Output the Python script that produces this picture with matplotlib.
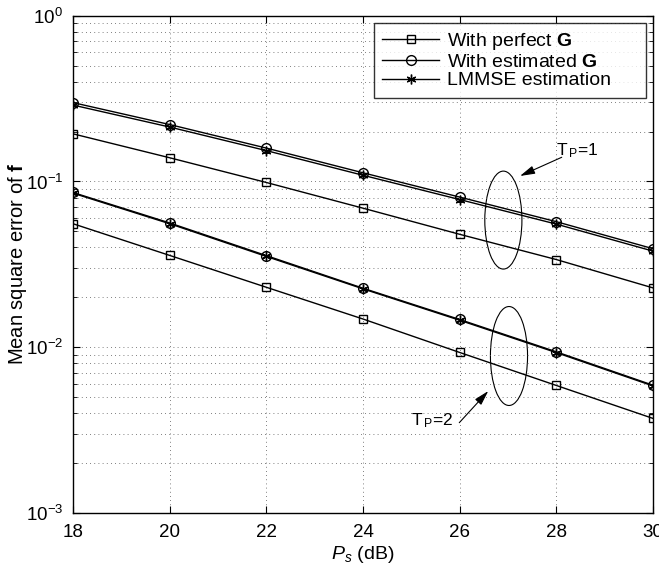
import matplotlib
matplotlib.use("Agg")
import matplotlib.pyplot as plt
from matplotlib.patches import Ellipse
from matplotlib.ticker import LogLocator, NullFormatter

plt.rcParams["font.family"] = ["Liberation Sans", "DejaVu Sans"]
plt.rcParams["mathtext.fontset"] = "custom"
plt.rcParams["mathtext.rm"] = "Liberation Sans"
plt.rcParams["mathtext.it"] = "Liberation Sans:italic"
plt.rcParams["mathtext.bf"] = "Liberation Sans:bold"

# Potência Ps (dB)
ps_db = [18, 20, 22, 24, 26, 28, 30]

# T_P = 1
perfeito_tp1 = [0.1938, 0.139, 0.0986, 0.069, 0.048, 0.0338, 0.0228]
estimado_tp1 = [0.299, 0.2205, 0.159, 0.1128, 0.0805, 0.0572, 0.0393]
lmmse_tp1 = [0.289, 0.213, 0.1535, 0.109, 0.0778, 0.0553, 0.038]

# T_P = 2
perfeito_tp2 = [0.0556, 0.0358, 0.0230, 0.0148, 0.0093, 0.00588, 0.00372]
estimado_tp2 = [0.0858, 0.0562, 0.0357, 0.0227, 0.0147, 0.00938, 0.0059]
lmmse_tp2 = [0.0850, 0.0556, 0.0353, 0.0225, 0.01455, 0.00928, 0.00584]

rotulos = ["With perfect $\\mathbf{G}$", "With estimated $\\mathbf{G}$", "LMMSE estimation     "]
asterisco = (6, 2, 0)

fig = plt.figure(figsize=(6.59, 5.69), dpi=100)
ax = fig.add_axes([73 / 659, 1 - 513 / 569, 580 / 659, 497.3 / 569])

estilo = dict(color="black", linewidth=1.0, markerfacecolor="none", markeredgecolor="black")
ax.semilogy(ps_db, perfeito_tp1, marker="s", markersize=6, label=rotulos[0], **estilo)
ax.semilogy(ps_db, estimado_tp1, marker="o", markersize=7, label=rotulos[1], **estilo)
ax.semilogy(ps_db, lmmse_tp1, marker=asterisco, markersize=7, label=rotulos[2], **estilo)
ax.semilogy(ps_db, perfeito_tp2, marker="s", markersize=6, **estilo)
ax.semilogy(ps_db, estimado_tp2, marker="o", markersize=7, **estilo)
ax.semilogy(ps_db, lmmse_tp2, marker=asterisco, markersize=7, **estilo)

ax.set_xlim(18, 30)
ax.set_ylim(1e-3, 1)
ax.set_xticks(ps_db)
ax.yaxis.set_major_locator(LogLocator(base=10, numticks=10))
ax.yaxis.set_minor_locator(LogLocator(base=10, subs=range(2, 10), numticks=20))
ax.yaxis.set_minor_formatter(NullFormatter())

ax.grid(True, which="major", linestyle=(0, (1, 4)), color="#555555", linewidth=0.6)
ax.grid(True, which="minor", axis="y", linestyle=(0, (1, 4)), color="#555555", linewidth=0.6)
ax.tick_params(which="both", direction="in", top=True, right=True, labelsize=13.5)
ax.tick_params(which="major", length=5)
ax.tick_params(which="minor", length=3)
ax.tick_params(axis="x", pad=8)
ax.tick_params(axis="y", pad=7)
for s in ax.spines.values():
    s.set_linewidth(1.0)

ax.set_xlabel("$P_s$ (dB)", fontsize=14, labelpad=2)
ax.set_ylabel("Mean square error of $\\mathbf{f}$", fontsize=14.5, va="center")
ax.yaxis.set_label_coords(-0.095, 0.5)

leg = ax.legend(loc="upper right", fontsize=14, frameon=True, fancybox=False,
                edgecolor="black", borderaxespad=0.35, handlelength=2.9,
                labelspacing=0.05, borderpad=0.45, handletextpad=0.4)
leg.get_frame().set_linewidth(1.0)

# elipses e anotações
ax.add_patch(Ellipse((0.742, 0.589), 0.064, 0.197, transform=ax.transAxes,
                     fill=False, edgecolor="black", linewidth=0.8))
ax.add_patch(Ellipse((0.7517, 0.3157), 0.064, 0.199, transform=ax.transAxes,
                     fill=False, edgecolor="black", linewidth=0.8))

seta = dict(arrowstyle="-|>,head_length=0.9,head_width=0.25", color="black", lw=0.8,
            shrinkA=0, shrinkB=0)
ax.annotate("", xy=(0.7707, 0.6777), xytext=(0.8426, 0.7153), xycoords="axes fraction",
            arrowprops=seta)
ax.annotate("", xy=(0.716, 0.2453), xytext=(0.666, 0.1816), xycoords="axes fraction",
            arrowprops=seta)
ax.text(0.833, 0.728, "T$_{\\,\\mathrm{P}}$=1", transform=ax.transAxes, fontsize=12.5,
        ha="left", va="center")
ax.text(0.582, 0.186, "T$_{\\,\\mathrm{P}}$=2", transform=ax.transAxes, fontsize=12.5,
        ha="left", va="center")

fig.savefig("out.png", dpi=100)
